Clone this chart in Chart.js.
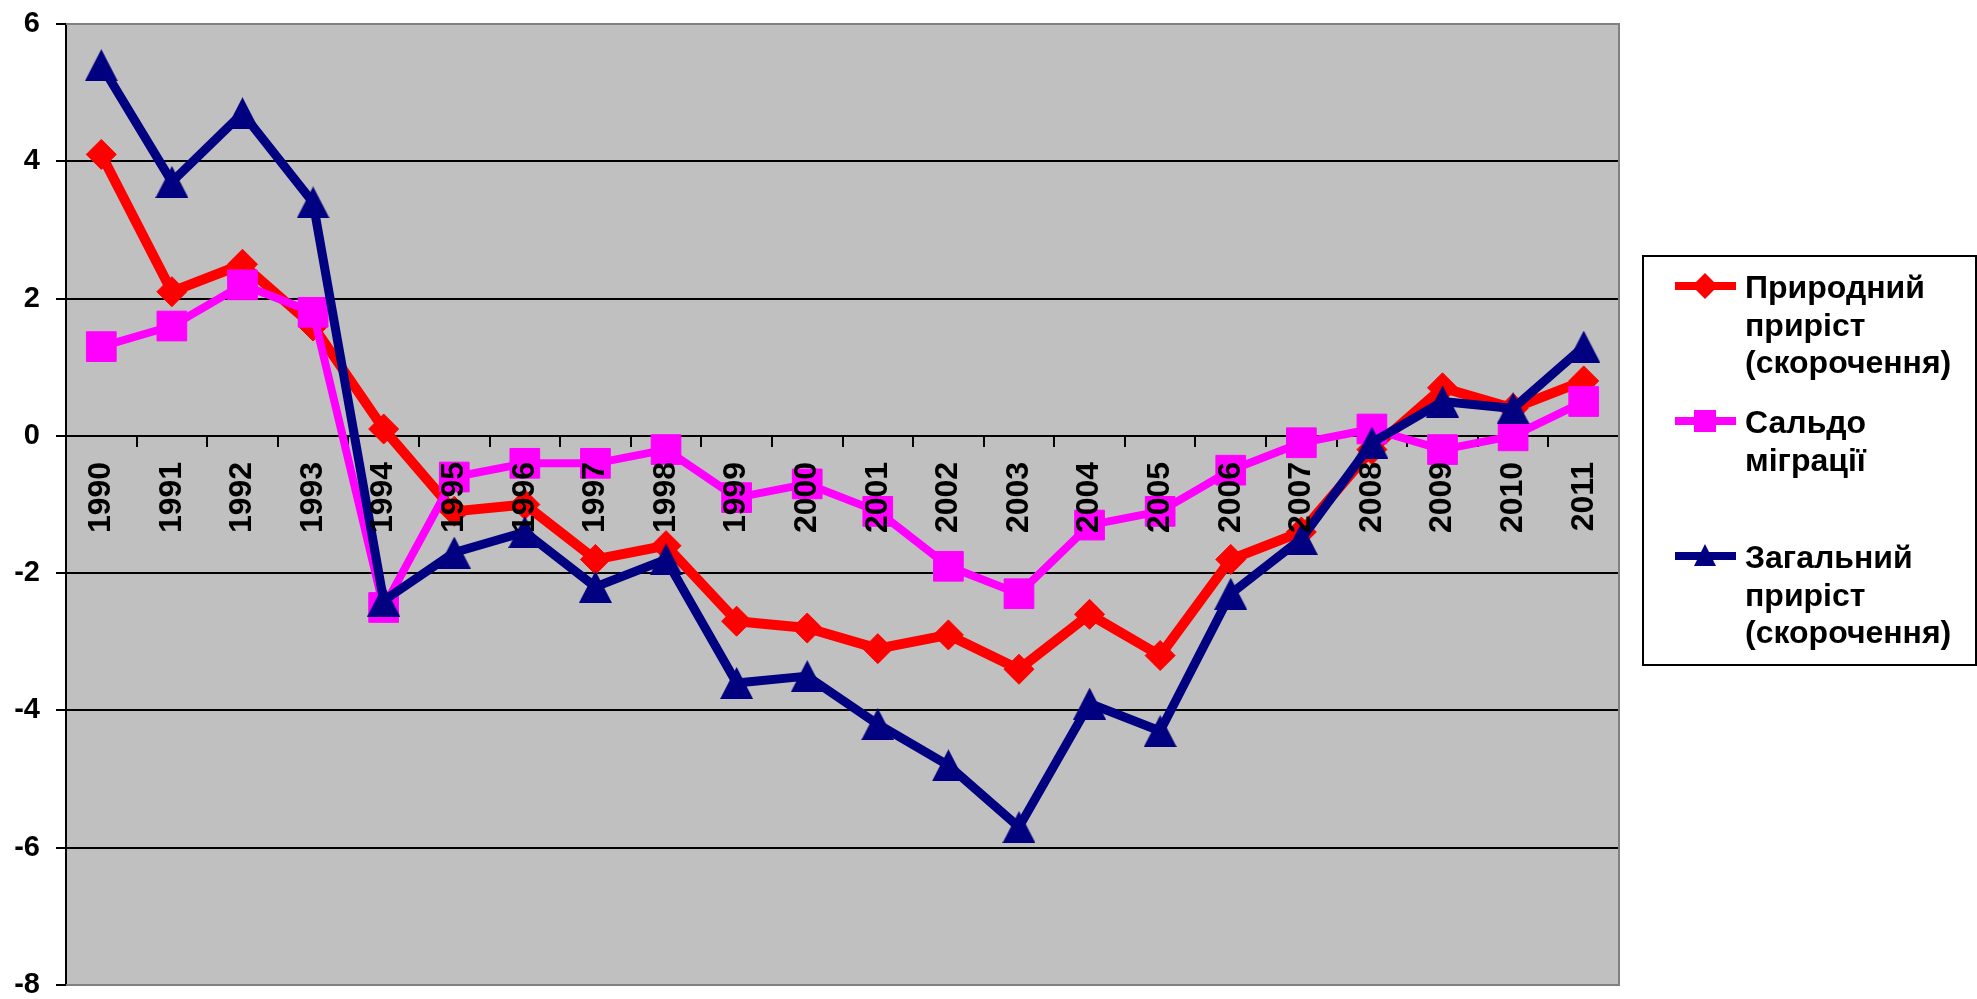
<!DOCTYPE html>
<html>
<head>
<meta charset="utf-8">
<script src="https://cdn.jsdelivr.net/npm/chart.js@4.4.1/dist/chart.umd.min.js"></script>
<style>
  html, body { margin: 0; padding: 0; background: #fff; }
  #wrap { width: 1977px; height: 999px; position: relative; }
</style>
</head>
<body>
<div id="wrap"><canvas id="chart" width="1977" height="999"></canvas></div>
<script>
// дані
const roky = ['1990', '1991', '1992', '1993', '1994', '1995', '1996', '1997', '1998', '1999', '2000',
              '2001', '2002', '2003', '2004', '2005', '2006', '2007', '2008', '2009', '2010', '2011'];
const pryrodnyi = [4.1, 2.1, 2.5, 1.6, 0.1, -1.1, -1.0, -1.8, -1.6, -2.7, -2.8,
                   -3.1, -2.9, -3.4, -2.6, -3.2, -1.8, -1.4, -0.2, 0.7, 0.4, 0.8];
const saldo = [1.3, 1.6, 2.2, 1.8, -2.5, -0.6, -0.4, -0.4, -0.2, -0.9, -0.7,
               -1.1, -1.9, -2.3, -1.3, -1.1, -0.5, -0.1, 0.1, -0.2, 0.0, 0.5];
const zagalnyi = [5.4, 3.7, 4.7, 3.4, -2.4, -1.7, -1.4, -2.2, -1.8, -3.6, -3.5,
                  -4.2, -4.8, -5.7, -3.9, -4.3, -2.3, -1.5, -0.1, 0.5, 0.4, 1.3];
const yMin = -8;
const yMax = 6;
const yKrok = 2;
const legenda = [
    ['Природний', 'приріст', '(скорочення)'],
    ['Сальдо', 'міграції'],
    ['Загальний', 'приріст', '(скорочення)']
];

const CHERVONYI = '#ff0000';
const ROZHEVYI = '#ff00ff';
const SYNII = '#000080';
const SHRYFT = '"Liberation Sans", Arial, sans-serif';

// трикутник як в Excel (центр по габариту, висота ~ ширина)
function trykutnyk(kolir) {
    const c = document.createElement('canvas');
    c.width = 33;
    c.height = 32;
    const g = c.getContext('2d');
    g.fillStyle = kolir;
    g.beginPath();
    g.moveTo(16.5, 0);
    g.lineTo(33, 32);
    g.lineTo(0, 32);
    g.closePath();
    g.fill();
    return c;
}

// фон області побудови + сіра рамка
const fonPlugin = {
    id: 'fon',
    beforeDraw(chart) {
        const { ctx, chartArea: a } = chart;
        ctx.save();
        ctx.fillStyle = '#fff';
        ctx.fillRect(0, 0, chart.width, chart.height);
        ctx.fillStyle = '#c0c0c0';
        ctx.fillRect(a.left, a.top, a.right - a.left, a.bottom - a.top);
        ctx.restore();
    },
    beforeDatasetsDraw(chart) {
        const { ctx, chartArea: a } = chart;
        ctx.save();
        ctx.strokeStyle = '#808080';
        ctx.lineWidth = 2;
        ctx.beginPath();
        ctx.moveTo(a.left, a.top);
        ctx.lineTo(a.right, a.top);
        ctx.lineTo(a.right, a.bottom);
        ctx.lineTo(a.left, a.bottom);
        ctx.stroke();
        ctx.restore();
    }
};

function marker(ctx, styl, x, y, kolir) {
    ctx.fillStyle = kolir;
    ctx.beginPath();
    if (styl === 'rectRot') {
        ctx.moveTo(x, y - 13); ctx.lineTo(x + 13, y); ctx.lineTo(x, y + 13); ctx.lineTo(x - 13, y);
    } else if (styl === 'rect') {
        ctx.rect(x - 11, y - 11, 22, 22);
    } else {
        ctx.moveTo(x, y - 12); ctx.lineTo(x + 11, y + 10); ctx.lineTo(x - 11, y + 10);
    }
    ctx.closePath();
    ctx.fill();
}

// легенда праворуч (як в Excel)
const legendaPlugin = {
    id: 'legendaExcel',
    afterDraw(chart) {
        const ctx = chart.ctx;
        const left = 1643, top = 256, right = 1976, bottom = 665;
        ctx.save();
        ctx.fillStyle = '#fff';
        ctx.fillRect(left, top, right - left, bottom - top);
        ctx.strokeStyle = '#000';
        ctx.lineWidth = 2;
        ctx.strokeRect(left, top, right - left, bottom - top);

        const krok = 135;
        chart.data.datasets.forEach((ds, i) => {
            const yLinii = top + 30 + i * krok;
            ctx.strokeStyle = ds.borderColor;
            ctx.lineWidth = 8;
            ctx.beginPath();
            ctx.moveTo(1675, yLinii);
            ctx.lineTo(1736, yLinii);
            ctx.stroke();
            marker(ctx, ds.pointStyle, 1705, yLinii, ds.borderColor);

            ctx.fillStyle = '#000';
            ctx.font = 'bold 32px ' + SHRYFT;
            ctx.textAlign = 'left';
            ctx.textBaseline = 'alphabetic';
            legenda[i].forEach((ryadok, j) => {
                ctx.fillText(ryadok, 1745, yLinii + 12 + j * 37.5);
            });
        });
        ctx.restore();
    }
};

new Chart(document.getElementById('chart'), {
    type: 'line',
    data: {
        labels: roky,
        datasets: [
            {
                label: legenda[0].join(' '),
                data: pryrodnyi,
                borderColor: CHERVONYI,
                backgroundColor: CHERVONYI,
                borderWidth: 10,
                pointStyle: 'rectRot',
                pointRadius: 15,
                pointBorderWidth: 1,
                order: 3
            },
            {
                label: legenda[1].join(' '),
                data: saldo,
                borderColor: ROZHEVYI,
                backgroundColor: ROZHEVYI,
                borderWidth: 8,
                pointStyle: 'rect',
                pointRadius: 21,
                pointBorderWidth: 1,
                order: 2
            },
            {
                label: legenda[2].join(' '),
                data: zagalnyi,
                borderColor: SYNII,
                backgroundColor: SYNII,
                borderWidth: 9,
                pointStyle: trykutnyk(SYNII),
                pointRadius: 17,
                order: 1
            }
        ]
    },
    options: {
        responsive: false,
        animation: false,
        devicePixelRatio: 1,
        layout: { autoPadding: false, padding: { left: 0, right: 358, top: 24, bottom: 14 } },
        elements: { line: { tension: 0, borderJoinStyle: 'round' } },
        plugins: {
            legend: { display: false },
            tooltip: { enabled: false }
        },
        scales: {
            x: {
                type: 'category',
                position: { y: 0 },
                offset: true,
                grid: { offset: true, drawOnChartArea: false, drawTicks: true, tickLength: 10, color: '#000', lineWidth: 2 },
                border: { display: true, color: '#000', width: 2 },
                ticks: {
                    z: 1,
                    autoSkip: false,
                    minRotation: 90,
                    maxRotation: 90,
                    padding: 16,
                    color: '#000',
                    font: { family: SHRYFT, size: 32, weight: 'bold' }
                }
            },
            y: {
                min: yMin,
                max: yMax,
                afterFit(scale) {
                    scale.width = 66;
                    scale.paddingTop = 0;
                    scale.paddingBottom = 0;
                },
                ticks: {
                    stepSize: yKrok,
                    padding: 16,
                    color: '#000',
                    font: { family: SHRYFT, size: 29, weight: 'bold' }
                },
                grid: {
                    color: (c) => (c.tick && (c.tick.value === yMax || c.tick.value === yMin)) ? '#808080' : '#000',
                    tickColor: '#000',
                    lineWidth: 2,
                    tickLength: 10
                },
                border: { color: '#000', width: 2 }
            }
        }
    },
    plugins: [fonPlugin, legendaPlugin]
});
</script>
</body>
</html>
